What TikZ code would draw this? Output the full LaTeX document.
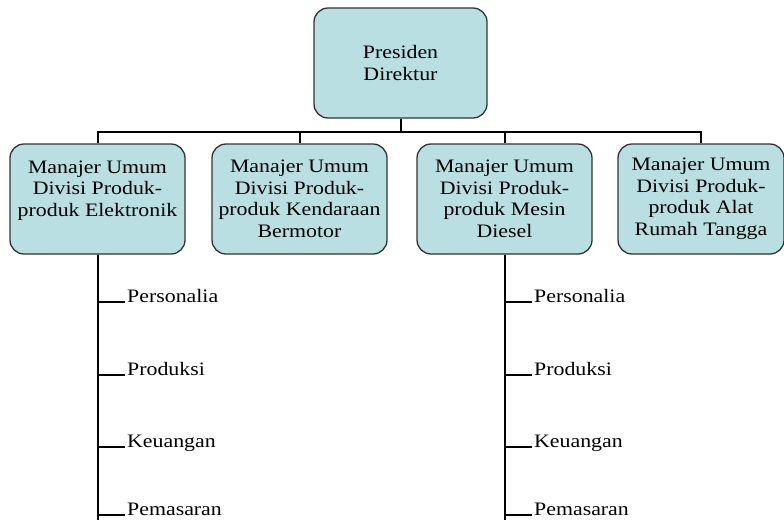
\documentclass[tikz,border=0pt]{standalone}
\usepackage{fontspec}
\setmainfont{Liberation Serif}[FakeStretch=1.15]
\usetikzlibrary{positioning}
\definecolor{kotak}{RGB}{185,223,227}
\tikzset{
  jabatan/.style={draw=black!80, line width=1.3pt, fill=kotak, rounded corners=14pt,
    minimum height=110pt, align=center, inner sep=2pt,
    font=\fontsize{19}{21.5}\selectfont},
  bagian/.style={anchor=base west, inner sep=2pt, font=\fontsize{19}{21.5}\selectfont},
  garis/.style={line width=2pt}
}

\begin{document}
\begin{tikzpicture}[x=1pt,y=-1pt]
\useasboundingbox (0,0) rectangle (784,520);
\node[jabatan, minimum width=173pt] (presdir) at (400.5,63) {Presiden\\Direktur};
\node[jabatan, minimum width=175pt] (gm1) at (97.5,199) {Manajer Umum\\Divisi Produk-\\produk Elektronik\\~};
\node[jabatan, minimum width=175pt] (gm2) at (299.5,199) {Manajer Umum\\Divisi Produk-\\produk Kendaraan\\Bermotor};
\node[jabatan, minimum width=175pt] (gm3) at (504.5,199) {Manajer Umum\\Divisi Produk-\\produk Mesin\\Diesel};
\node[jabatan, minimum width=166pt] (gm4) at (701,199) {Manajer Umum\\Divisi Produk-\\produk Alat\\Rumah Tangga};

\draw[garis] (presdir.south) -- ++(0,13) -| (gm1.north);
\draw[garis] (presdir.south) -- ++(0,13) -| (gm2.north);
\draw[garis] (presdir.south) -- ++(0,13) -| (gm3.north);
\draw[garis] (presdir.south) -- ++(0,13) -| (gm4.north);

\node[bagian] (per1) at (125,302) {Personalia};
\node[bagian] (pro1) at (125,375) {Produksi};
\node[bagian] (keu1) at (125,447) {Keuangan};
\node[bagian] (pem1) at (125,515) {Pemasaran};
\node[bagian] (per3) at (532,302) {Personalia};
\node[bagian] (pro3) at (532,375) {Produksi};
\node[bagian] (keu3) at (532,447) {Keuangan};
\node[bagian] (pem3) at (532,515) {Pemasaran};
\coordinate (ujung1) at (gm1.south |- 0,520);
\coordinate (ujung3) at (gm3.south |- 0,520);

\draw[garis] (gm1.south) -- (ujung1);
\draw[garis] (gm1.south) |- (per1.base west);
\draw[garis] (gm1.south) |- (pro1.base west);
\draw[garis] (gm1.south) |- (keu1.base west);
\draw[garis] (gm1.south) |- (pem1.base west);
\draw[garis] (gm3.south) -- (ujung3);
\draw[garis] (gm3.south) |- (per3.base west);
\draw[garis] (gm3.south) |- (pro3.base west);
\draw[garis] (gm3.south) |- (keu3.base west);
\draw[garis] (gm3.south) |- (pem3.base west);
\end{tikzpicture}
\end{document}
